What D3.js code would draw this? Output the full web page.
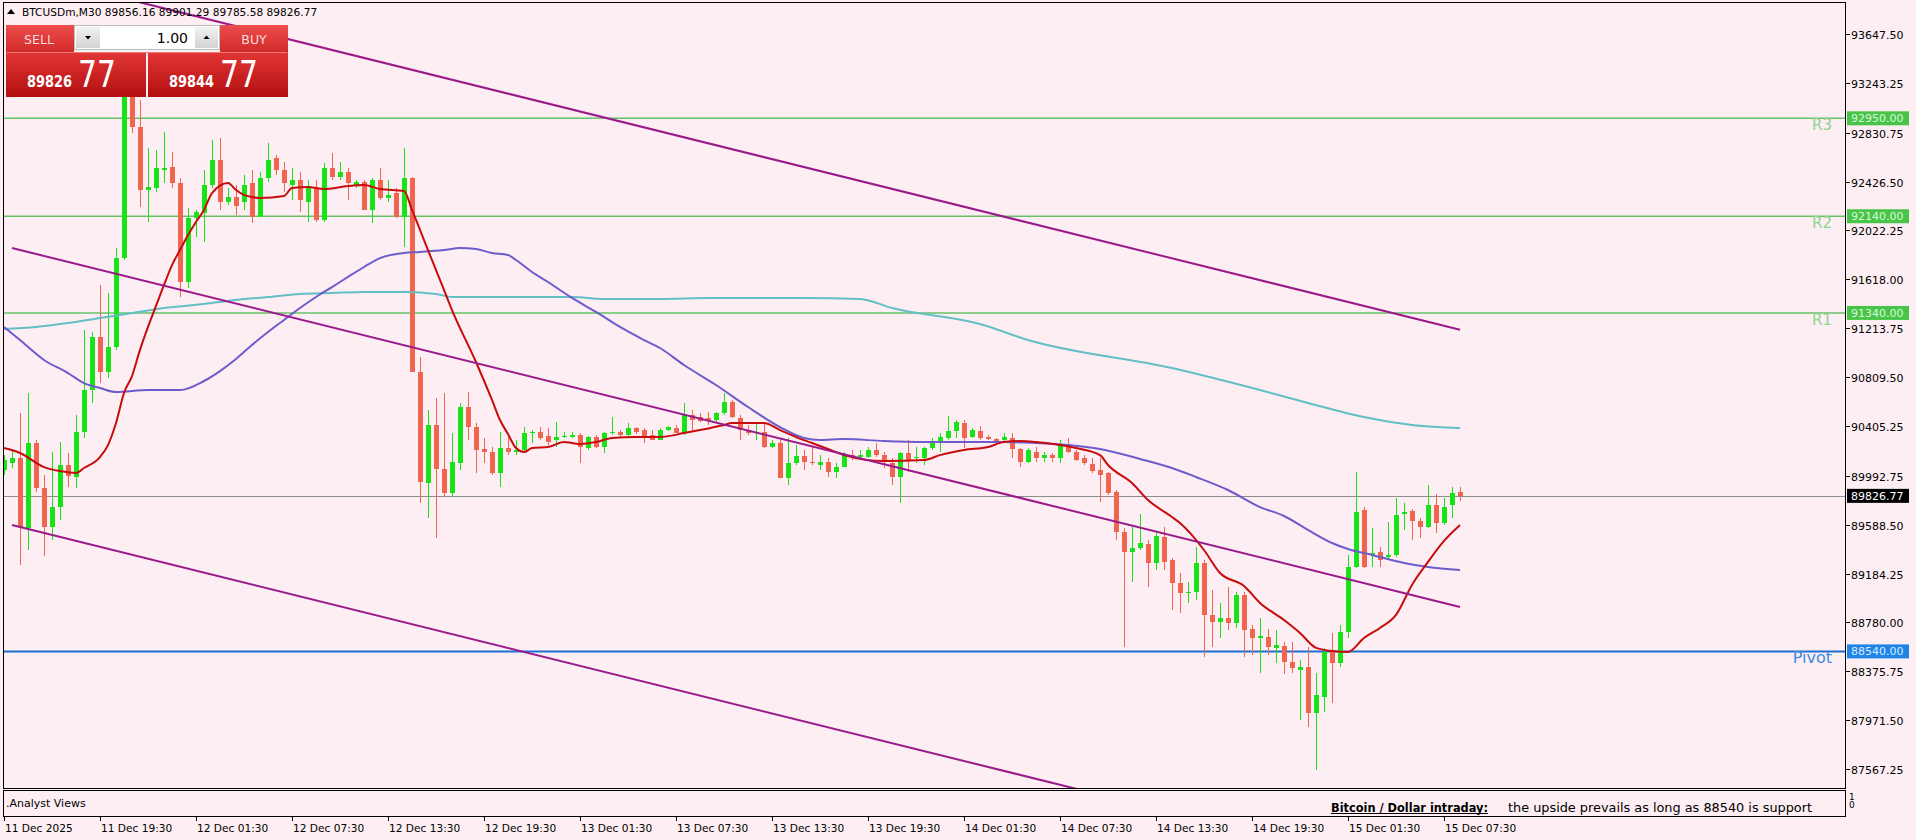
<!DOCTYPE html>
<html><head><meta charset="utf-8">
<script src="https://cdn.jsdelivr.net/npm/d3@7"></script>
<style>
html,body{margin:0;padding:0;background:#fdeef3;overflow:hidden;}
svg{display:block;}
text{font-family:"DejaVu Sans",sans-serif;}
</style></head><body>
<svg id="c" width="1916" height="840"></svg>
<script>
// ---------------- DATA ----------------
const symbolTitle = "BTCUSDm,M30";
const headerOHLC = ["89856.16","89901.29","89785.58","89826.77"];
const timeLabels = ["11 Dec 2025","11 Dec 19:30","12 Dec 01:30","12 Dec 07:30","12 Dec 13:30","12 Dec 19:30","13 Dec 01:30","13 Dec 07:30","13 Dec 13:30","13 Dec 19:30","14 Dec 01:30","14 Dec 07:30","14 Dec 13:30","14 Dec 19:30","15 Dec 01:30","15 Dec 07:30"];
const timeLabelBars = [0,12,24,36,48,60,72,84,96,108,120,132,144,156,168,180];
const priceTicks = [93647.50,93243.25,92830.75,92426.50,92022.25,91618.00,91213.75,90809.50,90405.25,89992.75,89588.50,89184.25,88780.00,88375.75,87971.50,87567.25];

const opens = [
90041,90098,90140,89561,90264,89892,89569,89734,90082,89983,
90354,90702,91141,90851,91058,91794,93201,92878,92357,92374,
92523,92547,92415,91596,92125,92167,92398,92605,92258,92299,
92258,92415,92134,92456,92622,92523,92398,92440,92258,92374,
92109,92539,92465,92506,92398,92423,92192,92440,92291,92332,
92134,92456,90851,89933,90413,90049,89850,90098,90562,90396,
90214,90189,90016,90222,90189,90206,90346,90354,90322,90289,
90313,90313,90330,90222,90313,90231,90346,90354,90330,90388,
90371,90330,90289,90371,90388,90346,90496,90479,90471,90454,
90512,90603,90471,90371,90346,90354,90231,90264,89975,90098,
90156,90106,90082,90106,90024,90065,90164,90148,90148,90206,
90164,90098,89983,90181,90140,90140,90222,90264,90305,90363,
90429,90313,90363,90313,90297,90289,90305,90214,90106,90189,
90140,90164,90140,90239,90189,90140,90090,90041,90016,89858,
89528,89363,89396,89429,89272,89487,89297,89106,89023,89032,
89272,88842,88784,88817,88775,89007,88726,88651,88660,88569,
88585,88453,88387,88412,88031,88163,88536,88445,88701,89239,
89710,89338,89363,89321,89338,89677,89701,89619,89569,89751,
89602,89751,89856.16];
const highs = [
90164,90206,90512,90678,90289,90000,90189,90272,90181,90496,
91199,91182,91572,91505,91877,93350,93308,93101,92704,92688,
92837,92671,92456,92208,92192,92523,92771,92787,92374,92398,
92481,92523,92506,92746,92646,92589,92539,92506,92440,92440,
92580,92663,92589,92539,92440,92440,92456,92539,92440,92374,
92704,92465,90975,90537,90636,90678,90346,90595,90686,90429,
90305,90231,90354,90313,90289,90396,90371,90396,90388,90437,
90354,90354,90346,90322,90330,90354,90479,90371,90429,90396,
90388,90371,90388,90404,90413,90595,90537,90512,90521,90521,
90678,90620,90496,90413,90429,90429,90289,90305,90305,90247,
90206,90231,90164,90140,90098,90189,90206,90206,90231,90264,
90189,90140,90189,90289,90231,90231,90305,90346,90487,90454,
90454,90388,90404,90330,90305,90346,90346,90222,90222,90231,
90189,90181,90289,90305,90206,90164,90140,90140,90024,89875,
89561,89569,89677,89462,89528,89569,89313,89189,89114,89404,
89297,89048,88941,89073,89032,89032,88759,88817,88726,88718,
88618,88618,88469,88577,88362,88569,88693,88759,89338,90024,
89734,89561,89404,89610,89809,89767,89718,89644,89917,89842,
89809,89900,89901.29];
const lows = [
90000,90057,89256,89379,89858,89329,89462,89627,89900,89892,
90305,90595,90760,90802,91034,91779,92829,92216,92093,92340,
92415,92374,91472,91546,91968,91927,92374,92192,92233,92150,
92192,92084,92134,92423,92481,92340,92274,92175,92093,92093,
92093,92440,92440,92274,92374,92192,92084,92274,92258,92125,
91885,90851,89767,89644,89479,89817,89817,90041,90289,90016,
90098,90000,89900,90164,90164,90189,90264,90289,90247,90231,
90305,90305,90098,90206,90222,90181,90330,90305,90322,90338,
90264,90289,90289,90363,90346,90330,90354,90437,90413,90437,
90496,90471,90289,90330,90289,90222,90222,89975,89917,90082,
90041,90082,90041,89983,89975,90065,90123,90123,90140,90148,
90057,89917,89767,90024,90098,90082,90206,90189,90289,90305,
90222,90305,90289,90289,90264,90272,90140,90065,90098,90106,
90106,90106,90098,90181,90115,90082,90016,89776,89834,89462,
88577,89114,89379,89073,89214,89214,88883,88858,88941,88966,
88494,88577,88651,88718,88734,88494,88511,88362,88511,88445,
88354,88362,87973,87915,87560,88039,88114,88412,88651,89230,
89230,89239,89239,89297,89321,89545,89462,89479,89561,89520,
89586,89644,89785.58];
const closes = [
90123,90140,89569,90264,89892,89569,89734,90082,89991,90354,
90702,91141,90851,91058,91794,93201,92878,92357,92382,92539,
92539,92415,91596,92125,92175,92398,92605,92258,92299,92225,
92398,92134,92456,92605,92523,92415,92440,92274,92374,92109,
92539,92465,92506,92415,92423,92192,92440,92291,92316,92134,
92456,90851,89941,90413,90049,89850,90106,90562,90396,90206,
90189,90016,90222,90189,90206,90346,90354,90305,90272,90313,
90322,90330,90231,90313,90231,90346,90354,90330,90388,90354,
90313,90289,90371,90396,90346,90496,90454,90446,90454,90512,
90603,90479,90371,90346,90354,90231,90264,89975,90098,90156,
90106,90098,90106,90024,90065,90164,90148,90164,90206,90164,
90106,89983,90181,90123,90148,90222,90264,90313,90363,90437,
90305,90371,90305,90297,90272,90313,90214,90106,90206,90140,
90164,90140,90247,90189,90123,90098,90032,90000,89850,89528,
89363,89396,89437,89272,89495,89280,89106,89023,89032,89272,
88842,88784,88817,88775,89007,88718,88651,88668,88577,88594,
88453,88403,88412,88031,88180,88536,88445,88701,89239,89693,
89239,89354,89297,89338,89668,89693,89619,89569,89751,89602,
89734,89850,89826.77];

// moving averages: [bar, price]
const maFast = [[0,90222],[2,90181],[5,90065],[7,90032],[9,90016],[10,90057],[12,90148],[13,90247],[14,90429],[15,90678],[16,90818],[17,91034],[18,91224],[19,91398],[20,91572],[21,91736],[22,91860],[23,91985],[24,92093],[25,92192],[26,92332],[28,92415],[29,92357],[30,92316],[31,92299],[32,92291],[35,92307],[36,92374],[38,92382],[40,92365],[43,92390],[45,92398],[47,92365],[50,92349],[51,92192],[53,91860],[55,91530],[56,91364],[59,90934],[61,90620],[62,90454],[63,90338],[64,90222],[65,90189],[66,90222],[68,90231],[70,90272],[71,90264],[72,90256],[74,90272],[76,90305],[79,90313],[82,90313],[85,90346],[87,90371],[90,90413],[91,90429],[95,90429],[97,90371],[99,90313],[101,90264],[104,90189],[105,90164],[110,90115],[115,90123],[117,90164],[120,90206],[123,90231],[125,90272],[127,90280],[129,90272],[132,90247],[134,90222],[137,90164],[138,90082],[141,89933],[143,89792],[146,89652],[147,89602],[150,89379],[152,89189],[155,89081],[157,88941],[160,88800],[162,88693],[164,88569],[166,88544],[168,88536],[170,88651],[172,88734],[174,88842],[176,89090],[178,89280],[180,89454],[182,89586]];
const maMid = [[0,91224],[2,91116],[5,90951],[8,90843],[10,90760],[12,90719],[14,90686],[18,90702],[22,90702],[25,90777],[27,90859],[29,90959],[31,91075],[33,91182],[35,91282],[37,91381],[39,91472],[41,91554],[43,91638],[45,91720],[47,91794],[50,91836],[52,91844],[55,91860],[57,91877],[59,91869],[61,91836],[63,91819],[64,91778],[66,91679],[68,91596],[71,91464],[74,91348],[77,91224],[80,91116],[82,91050],[85,90909],[89,90744],[93,90562],[97,90396],[100,90305],[102,90289],[105,90297],[110,90280],[115,90272],[121,90272],[125,90272],[129,90264],[133,90247],[137,90214],[142,90132],[146,90057],[149,89983],[153,89875],[157,89734],[160,89660],[163,89545],[166,89437],[168,89387],[171,89338],[175,89272],[178,89239],[182,89214]];
const maSlow = [[0,91207],[4,91224],[8,91257],[12,91298],[16,91339],[20,91381],[25,91414],[29,91447],[33,91472],[37,91497],[41,91505],[45,91513],[50,91513],[54,91497],[56,91472],[65,91472],[71,91472],[75,91456],[82,91456],[88,91464],[100,91464],[107,91456],[111,91381],[122,91248],[128,91116],[146,90884],[157,90702],[163,90595],[170,90479],[176,90413],[182,90388]];

// channel lines: [bar, price] anchors
const channelTop = [[1,94172],[182,91201]];
const channelMid = [[1,91877],[182,88908]];
const channelLow = [[1,89586],[182,86616]];

const levelNames = ["R3","R2","R1","Pivot"];
const levelValues = [92950,92140,91340,88540];
const lastPrice = 89826.77;
const bidPrice = ["89826","77"];
const askPrice = ["89844","77"];
const lotSize = "1.00";
const subTitle = ".Analyst Views";
const commentBold = "Bitcoin / Dollar intraday:";
const commentText = "the upside prevails as long as 88540 is support";

// ---------------- DRAW ----------------
const svg = d3.select("#c");
const L = 3.5, T = 2.5, R = 1845.5, B = 788.5;
const x = d3.scaleLinear().domain([0, 182]).range([4, 1460]);
const y = d3.scaleLinear().domain([87410, 93904]).range([788, 3]);

const defs = svg.append("defs");
defs.append("clipPath").attr("id","plotClip").append("rect").attr("x",L).attr("y",T).attr("width",R-L).attr("height",B-T);
defs.append("clipPath").attr("id","subClip").append("rect").attr("x",L).attr("y",791).attr("width",R-L).attr("height",24.5);
function grad(id, c1, c2){
  const g = defs.append("linearGradient").attr("id",id).attr("x1",0).attr("y1",0).attr("x2",0).attr("y2",1);
  g.append("stop").attr("offset","0%").attr("stop-color",c1);
  g.append("stop").attr("offset","100%").attr("stop-color",c2);
}
grad("btnGrad","#ec4d4d","#d22a2a");
grad("boxGrad","#e23636","#b30f0f");
grad("spinGrad","#f2f2f2","#d2d2d2");

svg.append("rect").attr("width",1916).attr("height",840).attr("fill","#fdeef3");

const plot = svg.append("g").attr("clip-path","url(#plotClip)");

// level lines
plot.append("line").attr("x1",L).attr("x2",R).attr("y1",Math.round(y(lastPrice))+0.5).attr("y2",Math.round(y(lastPrice))+0.5)
  .attr("stroke","#8c8c8c").attr("stroke-width",1);
levelValues.forEach((v,k)=>{
  const isPivot = levelNames[k]==="Pivot";
  plot.append("line").attr("x1",L).attr("x2",R).attr("y1",y(v)).attr("y2",y(v))
    .attr("stroke", isPivot ? "#1f6fd3" : "#66c266").attr("stroke-width", isPivot ? 2 : 1.6);
  plot.append("text").attr("x",1832).attr("y",y(v)+12).attr("text-anchor","end")
    .attr("font-size", isPivot ? 16 : 15).attr("fill", isPivot ? "#3a8de0" : "#8fd48f").text(levelNames[k]);
});

// candles
const bars = d3.range(opens.length).map(i=>({i,o:opens[i],h:highs[i],l:lows[i],c:closes[i]}));
const cg = plot.append("g").attr("shape-rendering","crispEdges");
const bull = "#17e317", bear = "#f0654f";
cg.selectAll("line.w").data(bars).join("line").attr("class","w")
  .attr("x1",d=>x(d.i)+0.5).attr("x2",d=>x(d.i)+0.5)
  .attr("y1",d=>y(d.h)).attr("y2",d=>y(d.l))
  .attr("stroke",d=>d.c>=d.o?bull:bear).attr("stroke-width",1);
cg.selectAll("rect.b").data(bars).join("rect").attr("class","b")
  .attr("x",d=>x(d.i)-2).attr("width",5)
  .attr("y",d=>Math.round(y(Math.max(d.o,d.c))))
  .attr("height",d=>Math.max(1, Math.round(y(Math.min(d.o,d.c))) - Math.round(y(Math.max(d.o,d.c)))))
  .attr("fill",d=>d.c>=d.o?bull:bear);

// moving averages
const maLine = d3.line().x(d=>x(d[0])).y(d=>y(d[1])).curve(d3.curveMonotoneX);
plot.append("path").attr("d",maLine(maSlow)).attr("fill","none").attr("stroke","#62bfc4").attr("stroke-width",2);
plot.append("path").attr("d",maLine(maMid)).attr("fill","none").attr("stroke","#6c5ccc").attr("stroke-width",2);
plot.append("path").attr("d",maLine(maFast)).attr("fill","none").attr("stroke","#c80c0c").attr("stroke-width",2);

// channel
const chLine = d3.line().x(d=>x(d[0])).y(d=>y(d[1]));
[channelTop, channelMid, channelLow].forEach(c=>{
  plot.append("path").attr("d",chLine(c)).attr("fill","none").attr("stroke","#9a1a8c").attr("stroke-width",2);
});

// frames
const fr = svg.append("g").attr("shape-rendering","crispEdges").attr("fill","none").attr("stroke","#000");
fr.append("rect").attr("x",L).attr("y",T).attr("width",R-L).attr("height",B-T);
fr.append("rect").attr("x",L).attr("y",790.5).attr("width",R-L).attr("height",25.5);

// right axis
const ax = svg.append("g");
priceTicks.forEach(p=>{
  const yy = Math.round(y(p))+0.5;
  ax.append("line").attr("x1",R).attr("x2",R+4).attr("y1",yy).attr("y2",yy).attr("stroke","#000").attr("shape-rendering","crispEdges");
  ax.append("text").attr("x",1851).attr("y",yy+4).attr("font-size",11).attr("fill","#000").text(p.toFixed(2));
});
function priceTag(v, bg, fg, txt){
  const yy = y(v);
  ax.append("rect").attr("x",1847).attr("y",yy-7).attr("width",62).attr("height",14).attr("fill",bg);
  ax.append("text").attr("x",1851).attr("y",yy+4).attr("font-size",11).attr("fill",fg).text(txt);
}
levelValues.forEach((v,k)=>{
  if(levelNames[k]==="Pivot") priceTag(v,"#1e84e6","#d6ebff",v.toFixed(2));
  else priceTag(v,"#48c548","#d8f8d8",v.toFixed(2));
});
priceTag(lastPrice,"#000","#fff",lastPrice.toFixed(2));

// sub window
svg.append("text").attr("x",6).attr("y",807).attr("font-size",11).attr("fill","#000").text(subTitle);
const sub = svg.append("g").attr("clip-path","url(#subClip)");
sub.append("text").attr("x",1331).attr("y",812).attr("font-family","Liberation Sans, Arial, sans-serif").attr("font-weight","bold")
  .attr("font-size",13).attr("fill","#000").attr("textLength",157).attr("lengthAdjust","spacingAndGlyphs").text(commentBold);
sub.append("line").attr("x1",1331).attr("x2",1488).attr("y1",813.5).attr("y2",813.5).attr("stroke","#000").attr("stroke-width",1);
sub.append("text").attr("x",1508).attr("y",812).attr("font-family","Liberation Sans, Arial, sans-serif")
  .attr("font-size",13).attr("fill","#000").attr("textLength",304).attr("lengthAdjust","spacingAndGlyphs").text(commentText);
svg.append("text").attr("x",1849).attr("y",800).attr("font-size",9).attr("fill","#000").text("1");
svg.append("text").attr("x",1849).attr("y",808).attr("font-size",9).attr("fill","#000").text("0");

// time axis
timeLabelBars.forEach((b,k)=>{
  const xx = Math.round(x(b))+0.5;
  svg.append("line").attr("x1",xx).attr("x2",xx).attr("y1",816).attr("y2",821).attr("stroke","#000").attr("shape-rendering","crispEdges");
  svg.append("text").attr("x",xx+0.5).attr("y",832).attr("font-size",10.6).attr("fill","#000").text(timeLabels[k]);
});

// header
svg.append("path").attr("d","M7,14 L11,9 L15,14 Z").attr("fill","#000");
svg.append("text").attr("x",22).attr("y",16).attr("font-size",10.6).attr("fill","#000")
  .text(symbolTitle + "  " + headerOHLC.join(" "));

// one-click trading panel
const pn = svg.append("g");
pn.append("rect").attr("x",6).attr("y",25).attr("width",68).attr("height",27).attr("fill","url(#btnGrad)");
pn.append("rect").attr("x",220).attr("y",25).attr("width",68).attr("height",27).attr("fill","url(#btnGrad)");
pn.append("text").attr("x",39).attr("y",43.5).attr("text-anchor","middle").attr("font-size",12.5).attr("fill","#fbdada").text("SELL");
pn.append("text").attr("x",254).attr("y",43.5).attr("text-anchor","middle").attr("font-size",12.5).attr("fill","#fbdada").text("BUY");
pn.append("rect").attr("x",74.5).attr("y",25.5).attr("width",145).attr("height",24).attr("fill","#fff").attr("stroke","#bdbdbd");
pn.append("rect").attr("x",76).attr("y",27).attr("width",24).attr("height",21).attr("fill","url(#spinGrad)");
pn.append("rect").attr("x",195).attr("y",27).attr("width",23).attr("height",21).attr("fill","url(#spinGrad)");
pn.append("path").attr("d","M85,36 L91,36 L88,39.5 Z").attr("fill","#000");
pn.append("path").attr("d","M203.5,39 L209.5,39 L206.5,35.5 Z").attr("fill","#000");
pn.append("text").attr("x",188).attr("y",43).attr("text-anchor","end").attr("font-family","Liberation Sans, Arial, sans-serif").attr("font-size",14).attr("fill","#000").text(lotSize);
pn.append("rect").attr("x",6).attr("y",52).attr("width",140).attr("height",45).attr("fill","url(#boxGrad)");
pn.append("rect").attr("x",148).attr("y",52).attr("width",140).attr("height",45).attr("fill","url(#boxGrad)");
pn.append("line").attr("x1",7).attr("x2",287).attr("y1",52.5).attr("y2",52.5).attr("stroke","#f07a7a").attr("stroke-width",1);
function priceBox(x0, big){
  pn.append("text").attr("x",x0).attr("y",87).attr("font-family","Liberation Sans, Arial, sans-serif").attr("font-weight","bold")
    .attr("font-size",16).attr("fill","#fff").attr("textLength",45).attr("lengthAdjust","spacingAndGlyphs").text(big[0]);
  pn.append("text").attr("x",x0+51).attr("y",87).attr("font-family","Liberation Sans, Arial, sans-serif")
    .attr("font-size",37).attr("fill","#fff").attr("textLength",38).attr("lengthAdjust","spacingAndGlyphs").text(big[1]);
}
priceBox(27, bidPrice);
priceBox(169, askPrice);
</script>
</body></html>
